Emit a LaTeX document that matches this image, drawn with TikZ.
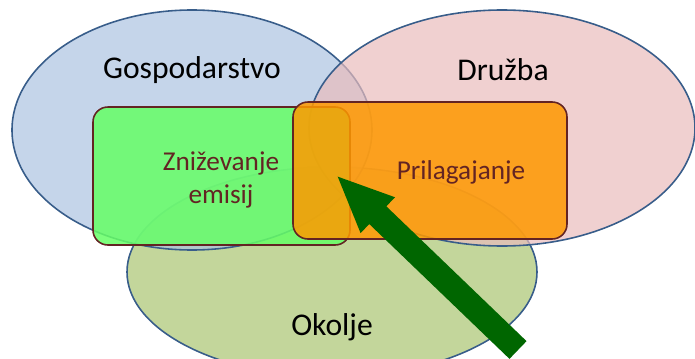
\documentclass[tikz,border=0pt]{standalone}
\usepackage{fontspec}
\setmainfont{Carlito}
\usetikzlibrary{arrows.meta}
\definecolor{robmodra}{RGB}{56,93,138}
\definecolor{gospmodra}{RGB}{172,195,225}
\definecolor{druzroza}{RGB}{233,188,188}
\definecolor{okoljzel}{RGB}{195,214,155}
\definecolor{svetlozel}{RGB}{102,255,102}
\definecolor{oranzna}{RGB}{255,153,0}
\definecolor{temnordeca}{RGB}{99,36,35}
\definecolor{puscica}{RGB}{0,102,0}
\tikzset{
  podrocje/.style={draw=robmodra,line width=0.9pt},
  ukrep/.style={draw=temnordeca,line width=0.9pt,rounded corners=8.5pt,fill opacity=0.85},
  napis/.style={font=\fontsize{18}{21}\selectfont},
  oznaka/.style={text=temnordeca,align=center,font=\fontsize{15.5}{18.7}\selectfont}
}

\begin{document}
\begin{tikzpicture}[x=0.02cm,y=-0.02cm]
\useasboundingbox (0,0) rectangle (695,358);
\clip (0,0) rectangle (695,358);
  \draw[podrocje,fill=okoljzel] (332,272) coordinate(O) ellipse (205 and 105);
  \draw[podrocje,fill=gospmodra,fill opacity=0.7] (192,130) coordinate(G) ellipse (180 and 120);
  \draw[podrocje,fill=druzroza,fill opacity=0.7] (502,128) coordinate(D) ellipse (193 and 118);
  \draw[ukrep,fill=svetlozel] (93,107) rectangle (350,245);
  \draw[ukrep,fill=oranzna] (293,102) rectangle (567,239);
  \node[napis] (gosp) at (192,70) {Gospodarstvo};
  \node[napis] (druzba) at (503,70) {Družba};
  \node[napis] (okolje) at (332,327) {Okolje};
  \node[oznaka] (zniz) at (221,180) {Zniževanje\\emisij};
  \node[oznaka] (prilag) at (461,172) {Prilagajanje};
% puscica
  \coordinate (rep) at (518,350);
  \coordinate (konica) at (336,175);
  \draw[-{Triangle[width=25.5pt,length=33pt]},line width=14pt,puscica] (rep) -- (konica);
\end{tikzpicture}
\end{document}
